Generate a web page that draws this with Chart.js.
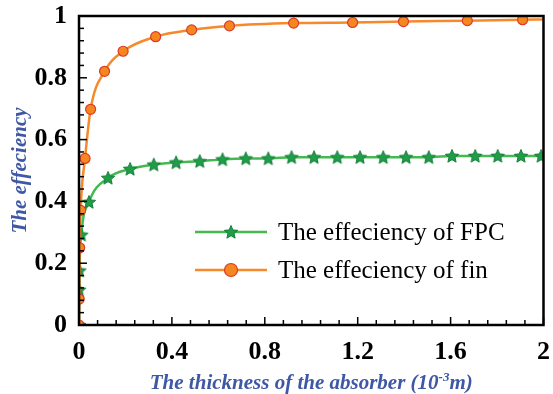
<!DOCTYPE html>
<html>
<head>
<meta charset="utf-8">
<script src="https://cdn.jsdelivr.net/npm/chart.js@4.4.0/dist/chart.umd.min.js"></script>
<style>
  html, body { margin: 0; padding: 0; background: #fff; }
  #wrap { width: 553px; height: 394px; }
</style>
</head>
<body>
<div id="wrap"><canvas id="chart"></canvas></div>
<script>
// Data
const fpcX = [0, 0.001, 0.002, 0.01, 0.043, 0.125, 0.22, 0.322, 0.418, 0.52, 0.618, 0.718, 0.815, 0.915, 1.012, 1.112, 1.21, 1.31, 1.408, 1.506, 1.606, 1.706, 1.803, 1.903, 1.99];
const fpcY = [0, 0.114, 0.176, 0.292, 0.398, 0.476, 0.505, 0.519, 0.526, 0.53, 0.536, 0.539, 0.539, 0.543, 0.543, 0.543, 0.543, 0.543, 0.543, 0.543, 0.547, 0.547, 0.547, 0.547, 0.547];
const finX = [0, 0.001, 0.003, 0.007, 0.026, 0.05, 0.11, 0.19, 0.33, 0.485, 0.648, 0.924, 1.178, 1.397, 1.672, 1.91, 2.0];
const finY = [0, 0.084, 0.25, 0.371, 0.539, 0.698, 0.821, 0.886, 0.933, 0.955, 0.968, 0.977, 0.979, 0.982, 0.985, 0.988, 0.989];
const seriesLabels = ['The effeciency of FPC', 'The effeciency of fin'];
const yTicks = [0, 0.2, 0.4, 0.6, 0.8, 1];
const xTicks = [0, 0.4, 0.8, 1.2, 1.6, 2];
const xTitle = 'The thickness of the absorber (10';
const xTitleSup = '-3';
const xTitleEnd = 'm)';
const yTitle = 'The effeciency';

const GREEN_LINE = '#45b851';
const GREEN_FILL = '#1f9d49';
const GREEN_EDGE = '#137d36';
const ORANGE_LINE = '#f7892a';
const ORANGE_FILL = '#f5871f';
const ORANGE_EDGE = '#dc3a2a';
const TITLE_BLUE = '#3f58a6';

// filled five-pointed star used as marker
function makeStar(r) {
    const c = document.createElement('canvas');
    const s = Math.ceil(r * 2 + 4);
    c.width = s; c.height = s;
    const g = c.getContext('2d');
    g.translate(s / 2, s / 2 + 0.5);
    g.beginPath();
    for (let i = 0; i < 10; i++) {
        const rad = i % 2 === 0 ? r : r * 0.45;
        const a = -Math.PI / 2 + i * Math.PI / 5;
        g.lineTo(rad * Math.cos(a), rad * Math.sin(a));
    }
    g.closePath();
    g.fillStyle = GREEN_FILL;
    g.fill();
    g.lineWidth = 1;
    g.strokeStyle = GREEN_EDGE;
    g.stroke();
    return c;
}
const starImg = makeStar(7);

function toPoints(xs, ys) {
    return xs.map((x, i) => ({ x: x, y: ys[i] }));
}

// inward ticks, frame, axis titles and legend
const decorPlugin = {
    id: 'decor',
    afterDatasetsDraw(chart) {
        const ctx = chart.ctx;
        const a = chart.chartArea;
        const xs = chart.scales.x, ys = chart.scales.y;
        ctx.save();
        ctx.strokeStyle = '#000';
        ctx.lineWidth = 1.5;
        for (let i = 0; i <= 25; i++) {
            const py = ys.getPixelForValue(i * 0.04);
            const len = i % 5 === 0 ? 8 : 5;
            ctx.beginPath();
            ctx.moveTo(a.left, py);
            ctx.lineTo(a.left + len, py);
            ctx.stroke();
            const px = xs.getPixelForValue(i * 0.08);
            ctx.beginPath();
            ctx.moveTo(px, a.bottom);
            ctx.lineTo(px, a.bottom - len);
            ctx.stroke();
        }
        ctx.lineWidth = 2.5;
        ctx.strokeRect(a.left, a.top, a.right - a.left, a.bottom - a.top);

        // x title with superscript
        ctx.fillStyle = TITLE_BLUE;
        ctx.textBaseline = 'alphabetic';
        const mainFont = 'bold italic 21px "Liberation Serif", serif';
        const supFont = 'bold italic 13px "Liberation Serif", serif';
        ctx.font = mainFont;
        const w1 = ctx.measureText(xTitle).width;
        const w3 = ctx.measureText(xTitleEnd).width;
        ctx.font = supFont;
        const w2 = ctx.measureText(xTitleSup).width;
        let tx = (a.left + a.right) / 2 - (w1 + w2 + w3) / 2;
        const ty = 389;
        ctx.font = mainFont;
        ctx.fillText(xTitle, tx, ty);
        tx += w1;
        ctx.font = supFont;
        ctx.fillText(xTitleSup, tx, ty - 8);
        tx += w2;
        ctx.font = mainFont;
        ctx.fillText(xTitleEnd, tx, ty);

        // y title
        ctx.save();
        ctx.translate(26, (a.top + a.bottom) / 2);
        ctx.rotate(-Math.PI / 2);
        ctx.textAlign = 'center';
        ctx.font = mainFont;
        ctx.fillText(yTitle, 0, 0);
        ctx.restore();

        // legend
        const rows = [
            { y: 232, line: GREEN_LINE, marker: 'star' },
            { y: 270, line: ORANGE_LINE, marker: 'circle' }
        ];
        rows.forEach((r, i) => {
            ctx.strokeStyle = r.line;
            ctx.lineWidth = 2.5;
            ctx.beginPath();
            ctx.moveTo(195, r.y);
            ctx.lineTo(267, r.y);
            ctx.stroke();
            if (r.marker === 'star') {
                ctx.drawImage(starImg, 231 - starImg.width / 2, r.y - starImg.height / 2);
            } else {
                ctx.beginPath();
                ctx.arc(231, r.y, 6.5, 0, Math.PI * 2);
                ctx.fillStyle = ORANGE_FILL;
                ctx.fill();
                ctx.lineWidth = 1.2;
                ctx.strokeStyle = ORANGE_EDGE;
                ctx.stroke();
            }
            ctx.fillStyle = '#000';
            ctx.font = '25px "Liberation Serif", serif';
            ctx.textAlign = 'left';
            ctx.textBaseline = 'middle';
            ctx.fillText(seriesLabels[i], 278, r.y + 1);
        });
        ctx.restore();
    }
};

const chart = new Chart(document.getElementById('chart'), {
    type: 'line',
    data: {
        datasets: [{
            label: seriesLabels[0],
            data: toPoints(fpcX, fpcY),
            borderColor: GREEN_LINE,
            borderWidth: 2.5,
            pointStyle: starImg,
            pointRadius: 7,
            cubicInterpolationMode: 'monotone',
            order: 2
        }, {
            label: seriesLabels[1],
            data: toPoints(finX, finY),
            borderColor: ORANGE_LINE,
            borderWidth: 2.5,
            pointBackgroundColor: ORANGE_FILL,
            pointBorderColor: ORANGE_EDGE,
            pointBorderWidth: 1.2,
            pointRadius: ctx => ctx.dataIndex === finX.length - 1 ? 0 : 5,
            cubicInterpolationMode: 'monotone',
            order: 1
        }]
    },
    options: {
        responsive: true,
        maintainAspectRatio: false,
        animation: false,
        layout: { padding: { top: 16, right: 6, left: 0, bottom: 0 } },
        plugins: {
            legend: { display: false },
            tooltip: { enabled: false }
        },
        scales: {
            x: {
                type: 'linear',
                min: 0,
                max: 2,
                afterFit: s => {
                    s.height = 69;
                    s.paddingLeft = 0;
                    s.paddingRight = 0;
                },
                afterBuildTicks: s => { s.ticks = xTicks.map(v => ({ value: v })); },
                grid: { display: false, drawTicks: false },
                border: { display: false },
                ticks: {
                    padding: 12,
                    color: '#000',
                    font: { family: '"Liberation Serif", serif', size: 26, weight: 'bold' },
                    callback: v => String(v)
                }
            },
            y: {
                type: 'linear',
                min: 0,
                max: 1,
                afterFit: s => {
                    s.width = 79;
                    s.paddingTop = 0;
                    s.paddingBottom = 0;
                },
                afterBuildTicks: s => { s.ticks = yTicks.map(v => ({ value: v })); },
                grid: { display: false, drawTicks: false },
                border: { display: false },
                ticks: {
                    padding: 12,
                    color: '#000',
                    font: { family: '"Liberation Serif", serif', size: 26, weight: 'bold' },
                    callback: v => String(v)
                }
            }
        }
    },
    plugins: [decorPlugin]
});
</script>
</body>
</html>
